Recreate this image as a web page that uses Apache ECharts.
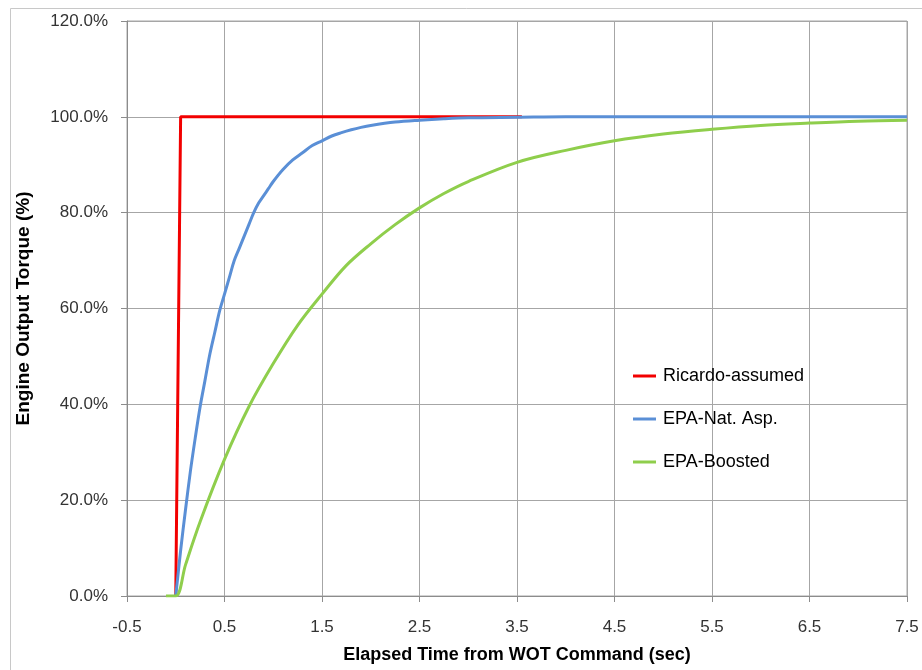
<!DOCTYPE html>
<html>
<head>
<meta charset="utf-8">
<script src="https://cdn.jsdelivr.net/npm/echarts@6/dist/echarts.min.js"></script>
<style>
html,body{margin:0;padding:0;background:#fff;}
#chart{width:922px;height:670px;}
</style>
</head>
<body>
<div id="chart"></div>
<script>
// Data (time in sec, torque in %)
var ricardoT = [0.0, 0.05, 3.55];
var ricardoV = [0, 100, 100];

var natAspT = [0, 0.05, 0.1, 0.15, 0.2, 0.25, 0.3, 0.35, 0.4, 0.45, 0.5, 0.55, 0.6, 0.65, 0.7, 0.75, 0.8, 0.85, 0.9, 0.95, 1.0, 1.1, 1.2, 1.3, 1.4, 1.5, 1.6, 1.7, 1.8, 1.9, 2.0, 2.25, 2.5, 2.75, 3.0, 3.5, 4.0, 5.0, 6.0, 7.5];
var natAspV = [0, 9.5, 18, 26, 33, 39.5, 45, 50.5, 55, 59.5, 63, 66.5, 70, 72.5, 75, 77.5, 80, 82, 83.5, 85, 86.5, 89, 91, 92.5, 94, 95, 96, 96.7, 97.3, 97.8, 98.2, 98.9, 99.3, 99.6, 99.8, 99.9, 100, 100, 100, 100];

var boostedT = [-0.1, 0, 0.1, 0.25, 0.5, 0.75, 1.0, 1.25, 1.5, 1.75, 2.0, 2.25, 2.5, 2.75, 3.0, 3.5, 4.0, 4.5, 5.0, 5.5, 6.0, 6.5, 7.0, 7.5];
var boostedV = [0, 0, 6.5, 15.5, 28.5, 39.5, 48.5, 56.5, 63, 69, 73.5, 77.5, 81, 84, 86.5, 90.5, 93, 95, 96.4, 97.4, 98.2, 98.7, 99.1, 99.3];

var seriesNames = ['Ricardo-assumed', 'EPA-Nat. Asp.', 'EPA-Boosted'];
var xTitle = 'Elapsed Time from WOT Command (sec)';
var yTitle = 'Engine Output Torque (%)';

function pairs(t, v) { return t.map(function (x, i) { return [x, v[i]]; }); }

var FONT = 'Liberation Sans';
var chart = echarts.init(document.getElementById('chart'), null, {renderer: 'canvas'});
chart.setOption({
  animation: false,
  backgroundColor: '#fff',
  graphic: [{
    type: 'rect', left: 8, top: 6, shape: {width: 1000, height: 1000},
    style: {fill: 'none', stroke: '#c8c8c8', lineWidth: 1}, silent: true, z: -10
  }],
  grid: {left: 127, right: 15, top: 21, bottom: 74, show: true, borderColor: '#a6a6a6', borderWidth: 1, backgroundColor: 'transparent'},
  legend: {
    orient: 'vertical', left: 633, top: 366, padding: 0,
    icon: 'rect', itemWidth: 23, itemHeight: 3, itemGap: 23,
    data: seriesNames,
    textStyle: {fontFamily: FONT, fontSize: 18, lineHeight: 20, color: '#000', padding: [0, 0, 0, 2]}
  },
  xAxis: {
    type: 'value', min: -0.5, max: 7.5, interval: 1,
    name: xTitle, nameLocation: 'middle', nameGap: 50,
    nameTextStyle: {fontFamily: FONT, fontSize: 18, fontWeight: 'bold', color: '#000'},
    axisLine: {onZero: false, lineStyle: {color: '#8c8c8c', width: 1}},
    axisTick: {show: true, inside: false, length: 6, lineStyle: {color: '#8c8c8c'}},
    axisLabel: {fontFamily: FONT, fontSize: 17, color: '#333', margin: 23,
      formatter: function (v) { return v.toFixed(1); }},
    splitLine: {show: true, lineStyle: {color: '#a6a6a6', width: 1}}
  },
  yAxis: {
    type: 'value', min: 0, max: 120, interval: 20,
    name: yTitle, nameLocation: 'middle', nameGap: 94,
    nameTextStyle: {fontFamily: FONT, fontSize: 19, fontWeight: 'bold', color: '#000'},
    axisLine: {show: true, onZero: false, lineStyle: {color: '#8c8c8c', width: 1}},
    axisTick: {show: true, inside: false, length: 6, lineStyle: {color: '#8c8c8c'}},
    axisLabel: {fontFamily: FONT, fontSize: 17, color: '#333', margin: 19,
      formatter: function (v) { return v.toFixed(1) + '%'; }},
    splitLine: {show: true, lineStyle: {color: '#a6a6a6', width: 1}}
  },
  series: [
    {name: seriesNames[0], type: 'line', data: pairs(ricardoT, ricardoV), symbol: 'none',
      lineStyle: {color: '#f20000', width: 3}, itemStyle: {color: '#f20000'}, z: 2},
    {name: seriesNames[1], type: 'line', data: pairs(natAspT, natAspV), symbol: 'none', smooth: 0.35,
      lineStyle: {color: '#5a8fd6', width: 3}, itemStyle: {color: '#5a8fd6'}, z: 3},
    {name: seriesNames[2], type: 'line', data: pairs(boostedT, boostedV), symbol: 'none', smooth: 0.35,
      lineStyle: {color: '#8fce4c', width: 3}, itemStyle: {color: '#8fce4c'}, z: 4}
  ]
});
</script>
</body>
</html>
